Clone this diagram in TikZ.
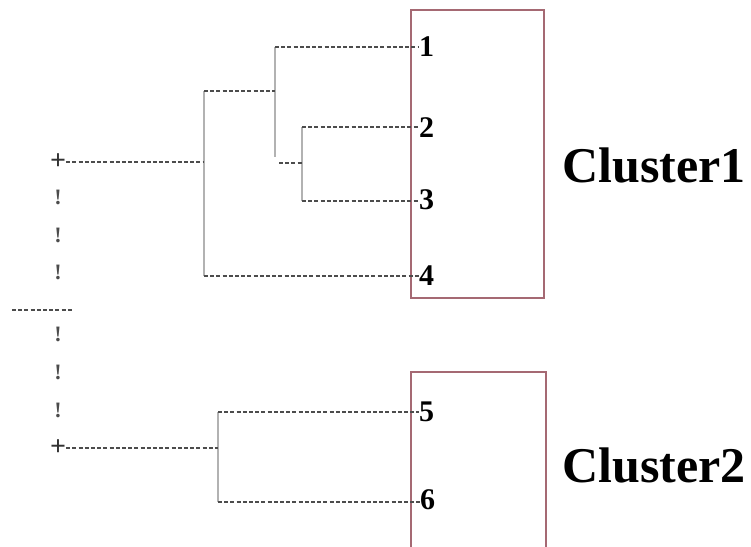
\documentclass[tikz,border=0pt]{standalone}
\usepackage{fontspec}
\setmainfont{Liberation Serif}
\definecolor{boxred}{RGB}{165,105,115}
\begin{document}
\begin{tikzpicture}[x=1pt,y=-1pt,
  dline/.style={draw=black!70, line width=2.3pt, dash pattern=on 4pt off 2.2pt},
  vline/.style={draw=black!30, line width=1.8pt},
  leaf/.style={font=\fontsize{30}{30}\selectfont\bfseries, inner sep=0pt, anchor=west},
  clabel/.style={font=\fontsize{50}{50}\selectfont\bfseries, inner sep=0pt},
  bang/.style={font=\fontsize{22}{22}\selectfont\bfseries, text=black!70, inner sep=0pt},
  plus/.style={font=\fontsize{28}{28}\selectfont\bfseries, text=black!80, inner sep=0pt},
  cbox/.style={draw=boxred, line width=2.2pt}]
\useasboundingbox (0,0) rectangle (751,546);
\fill[white] (0,0) rectangle (751,546);

% cluster boxes
\draw[cbox] (411,10) rectangle (544,298);
\draw[cbox] (411,548) -- (411,372) -- (546,372) -- (546,548);

% leaves
\node[leaf] (n1) at (419,47) {1};
\node[leaf] (n2) at (419,128) {2};
\node[leaf] (n3) at (419,200) {3};
\node[leaf] (n4) at (419,276) {4};
\node[leaf] (n5) at (419,412) {5};
\node[leaf] (n6) at (420,500) {6};

% cluster labels
\node[clabel] (c1) at (654,165) {Cluster1};
\node[clabel] (c2) at (654,465) {Cluster2};

% coordinates of the dendrogram
\coordinate (a1) at (275,47);
\coordinate (a1b) at (275,157);
\coordinate (j123) at (275,91);
\coordinate (a2) at (302,127);
\coordinate (a3) at (302,201);
\coordinate (j23) at (302,163);
\coordinate (s23) at (279,163);
\coordinate (b1) at (204,91);
\coordinate (b4) at (204,276);
\coordinate (b0) at (204,162);
\coordinate (d5) at (218,412);
\coordinate (d6) at (218,502);
\coordinate (d0) at (218,448);
\coordinate (r0) at (12,310);
\coordinate (r1) at (72,310);

% plus markers
\node[plus] (p1) at (58,162) {+};
\node[plus] (p2) at (58,448) {+};

% exclamation marks
\node[bang] (e1) at (58,197) {!};
\node[bang] (e2) at (58,235) {!};
\node[bang] (e3) at (58,272) {!};
\node[bang] (e4) at (58,334) {!};
\node[bang] (e5) at (58,372) {!};
\node[bang] (e6) at (58,410) {!};

% vertical lines
\draw[vline] (a1) -- (a1b);
\draw[vline] (a2) -- (a3);
\draw[vline] (b1) -- (b4);
\draw[vline] (d5) -- (d6);

% horizontal dashed lines
\draw[dline] (a1) -- (a1 -| n1.west);
\draw[dline] (a2) -- (a2 -| n2.west);
\draw[dline] (a3) -- (a3 -| n3.west);
\draw[dline] (b4) -- (b4 -| n4.west);
\draw[dline] (s23) -- (j23);
\draw[dline] (b1) -- (j123);
\draw[dline] (p1.east |- b0) -- (b0);
\draw[dline] (r0) -- (r1);
\draw[dline] (p2.east |- d0) -- (d0);
\draw[dline] (d5) -- (d5 -| n5.west);
\draw[dline] (d6) -- (d6 -| n6.west);
\end{tikzpicture}
\end{document}
